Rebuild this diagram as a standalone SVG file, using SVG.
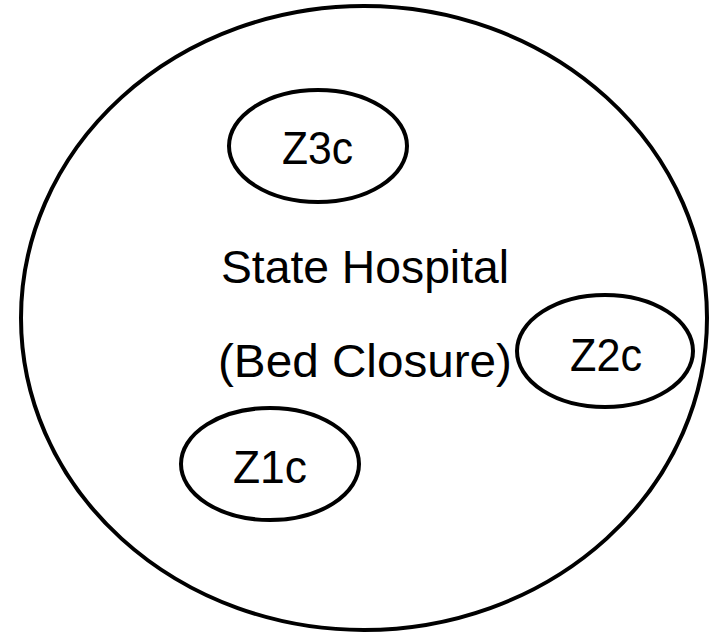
<svg xmlns="http://www.w3.org/2000/svg" width="710" height="633" viewBox="0 0 710 633">
<style>
.sh{fill:none;stroke:#000;stroke-width:4}
.t{font-family:"Liberation Sans",Arial,sans-serif;font-size:46px;fill:#000}
</style>
<rect width="710" height="633" fill="#fff"/>
<g id="hospital">
<ellipse class="sh" cx="364" cy="318" rx="343" ry="312"/>
<text class="t" x="221" y="283" textLength="288" lengthAdjust="spacingAndGlyphs">State Hospital</text>
<text class="t" x="218" y="377" textLength="294" lengthAdjust="spacingAndGlyphs">(Bed Closure)</text>
</g>
<g id="z3c">
<ellipse class="sh" cx="318" cy="146" rx="89" ry="56"/>
<text class="t" x="282" y="164" textLength="71" lengthAdjust="spacingAndGlyphs">Z3c</text>
</g>
<g id="z2c">
<ellipse class="sh" cx="605" cy="351" rx="88" ry="56"/>
<text class="t" x="570" y="371" textLength="72" lengthAdjust="spacingAndGlyphs">Z2c</text>
</g>
<g id="z1c">
<ellipse class="sh" cx="270" cy="464" rx="89" ry="56"/>
<text class="t" x="233" y="483" textLength="74" lengthAdjust="spacingAndGlyphs">Z1c</text>
</g>
<g id="connectors"/>
</svg>
